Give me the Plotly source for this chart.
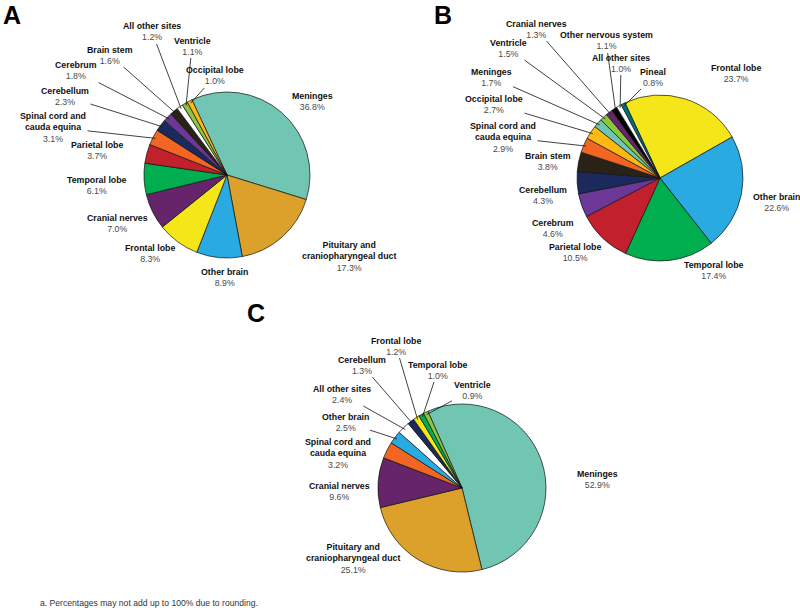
import math
import plotly.graph_objects as go

W, H = 800, 611

# ---------------- data ----------------
a_labels = ["Meninges", "Pituitary and craniopharyngeal duct", "Other brain", "Frontal lobe",
            "Cranial nerves", "Temporal lobe", "Parietal lobe", "Spinal cord and cauda equina",
            "Cerebellum", "Cerebrum", "Brain stem", "All other sites", "Ventricle", "Occipital lobe"]
a_values = [36.8, 17.3, 8.9, 8.3, 7.0, 6.1, 3.7, 3.1, 2.3, 1.8, 1.6, 1.2, 1.1, 1.0]

b_labels = ["Frontal lobe", "Other brain", "Temporal lobe", "Parietal lobe", "Cerebrum",
            "Cerebellum", "Brain stem", "Spinal cord and cauda equina", "Occipital lobe",
            "Meninges", "Ventricle", "Cranial nerves", "Other nervous system",
            "All other sites", "Pineal"]
b_values = [23.7, 22.6, 17.4, 10.5, 4.6, 4.3, 3.8, 2.9, 2.7, 1.7, 1.5, 1.3, 1.1, 1.0, 0.8]

c_labels = ["Meninges", "Pituitary and craniopharyngeal duct", "Cranial nerves",
            "Spinal cord and cauda equina", "Other brain", "All other sites", "Cerebellum",
            "Frontal lobe", "Temporal lobe", "Ventricle"]
c_values = [52.9, 25.1, 9.6, 3.2, 2.5, 2.4, 1.3, 1.2, 1.0, 0.9]

footnote = "a. Percentages may not add up to 100% due to rounding."

# ---------------- styles ----------------
colors = {
    "Meninges": "#70c6b3",
    "Pituitary and craniopharyngeal duct": "#dca12b",
    "Other brain": "#29abe2",
    "Frontal lobe": "#f5e61a",
    "Cranial nerves": "#66246a",
    "Temporal lobe": "#00ad4f",
    "Parietal lobe": "#c1202c",
    "Spinal cord and cauda equina": "#f26522",
    "Cerebellum": "#1b295c",
    "Cerebrum": "#6c3797",
    "Brain stem": "#2a2217",
    "All other sites": "#ffffff",
    "Ventricle": "#8cc63f",
    "Occipital lobe": "#fdb913",
    "Other nervous system": "#000000",
    "Pineal": "#00707a",
}
display = {
    "Spinal cord and cauda equina": "Spinal cord and<br>cauda equina",
    "Pituitary and craniopharyngeal duct": "Pituitary and<br>craniopharyngeal duct",
}

FONT = "Liberation Sans, Arial, Helvetica, sans-serif"
FS = 8.8

# panel geometry (pixels): center x, center y, radius, rotation
panels = {
    "A": dict(labels=a_labels, values=a_values, cx=227, cy=175, r=83, rot=-25,
              letter=(12, 15)),
    "B": dict(labels=b_labels, values=b_values, cx=660, cy=178, r=83, rot=-25,
              letter=(443, 15)),
    "C": dict(labels=c_labels, values=c_values, cx=462, cy=488, r=84, rot=-24,
              letter=(256, 313)),
}

# label placement (pixels, block centre), alignment and whether a leader line is drawn
label_pos = {
    "A": {
        "Meninges": (312, 101, False),
        "Pituitary and craniopharyngeal duct": (349, 257, False),
        "Other brain": (224, 277, False),
        "Frontal lobe": (150, 254, False),
        "Cranial nerves": (117, 223, False),
        "Temporal lobe": (97, 185, False),
        "Parietal lobe": (97, 151, False),
        "Spinal cord and cauda equina": (53, 127, True),
        "Cerebellum": (65, 96, True),
        "Cerebrum": (76, 71, True),
        "Brain stem": (110, 55, True),
        "All other sites": (152, 32, True),
        "Ventricle": (192, 46, True),
        "Occipital lobe": (215, 76, True),
    },
    "B": {
        "Frontal lobe": (736, 73, False),
        "Other brain": (776, 202, False),
        "Temporal lobe": (714, 271, False),
        "Parietal lobe": (575, 252, False),
        "Cerebrum": (553, 229, False),
        "Cerebellum": (543, 195, False),
        "Brain stem": (548, 161, False),
        "Spinal cord and cauda equina": (503, 137, True),
        "Occipital lobe": (494, 104, True),
        "Meninges": (491, 77, True),
        "Ventricle": (508, 48, True),
        "Cranial nerves": (536, 29, True),
        "Other nervous system": (606, 41, True),
        "All other sites": (621, 63, True),
        "Pineal": (653, 77, True),
    },
    "C": {
        "Meninges": (597, 479, False),
        "Pituitary and craniopharyngeal duct": (353, 558, False),
        "Cranial nerves": (339, 491, False),
        "Spinal cord and cauda equina": (338, 453, False),
        "Other brain": (345, 422, True),
        "All other sites": (342, 394, True),
        "Cerebellum": (362, 365, True),
        "Frontal lobe": (396, 346, True),
        "Temporal lobe": (438, 370, True),
        "Ventricle": (472, 390, True),
    },
}

fig = go.Figure()
annotations = []


def px(x):
    return x / W


def py(y):
    return 1 - y / H


for key, p in panels.items():
    cx, cy, r = p["cx"], p["cy"], p["r"]
    fig.add_trace(go.Pie(
        labels=p["labels"], values=p["values"], sort=False, direction="clockwise",
        rotation=p["rot"],
        marker=dict(colors=[colors[l] for l in p["labels"]],
                    line=dict(color="#111111", width=0.7)),
        textinfo="none", hoverinfo="label+percent", showlegend=False,
        domain=dict(x=[px(cx - r), px(cx + r)], y=[py(cy + r), py(cy - r)]),
    ))
    total = sum(p["values"])
    cum = 0.0
    for lab, val in zip(p["labels"], p["values"]):
        mid = math.radians(p["rot"] + 360.0 * (cum + val / 2) / total)
        cum += val
        lx, ly, leader = label_pos[key][lab]
        text = ("<b>" + display.get(lab, lab) + "</b><br>"
                + "<span style='color:#4a4a4a'>%.1f%%</span>" % val)
        common = dict(text=text, xref="paper", yref="paper", align="center",
                      xanchor="center", yanchor="middle",
                      font=dict(family=FONT, size=FS, color="#111111"))
        if leader:
            tx = cx + r * 0.97 * math.sin(mid)
            ty = cy - r * 0.97 * math.cos(mid)
            annotations.append(dict(x=px(tx), y=py(ty), ax=lx - tx, ay=ly - ty,
                                    axref="pixel", ayref="pixel", showarrow=True,
                                    arrowhead=0, arrowwidth=0.8, arrowcolor="#111111",
                                    **common))
        else:
            annotations.append(dict(x=px(lx), y=py(ly), showarrow=False, **common))
    # panel letter
    lx, ly = p["letter"]
    annotations.append(dict(text="<b>%s</b>" % key, x=px(lx), y=py(ly), xref="paper",
                            yref="paper", showarrow=False, xanchor="center",
                            yanchor="middle",
                            font=dict(family=FONT, size=25, color="#000000")))

annotations.append(dict(text=footnote, x=px(38), y=py(603), xref="paper", yref="paper",
                        showarrow=False, xanchor="left", yanchor="middle",
                        font=dict(family=FONT, size=8.6, color="#333333")))

fig.update_layout(width=W, height=H, margin=dict(l=0, r=0, t=0, b=0),
                  paper_bgcolor="white", plot_bgcolor="white",
                  annotations=annotations)

fig.write_html("out.html", config={"displayModeBar": False},
               post_script="document.body.style.margin='0px';document.body.style.padding='0px';")
